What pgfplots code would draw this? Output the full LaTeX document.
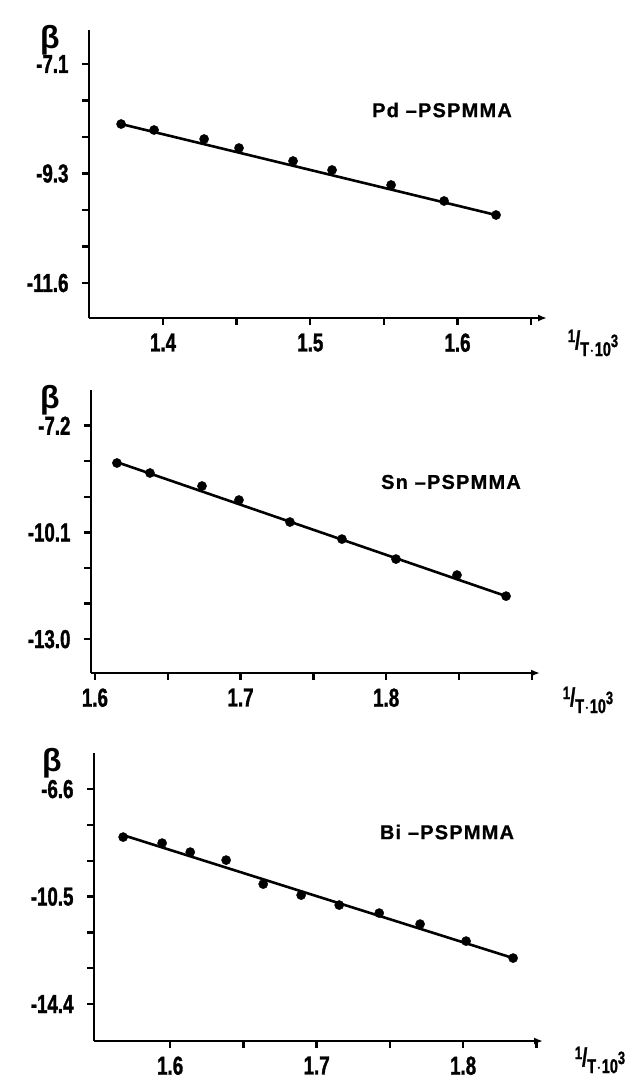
\documentclass[border=0pt]{standalone}
\usepackage{fontspec}
\setmainfont{Liberation Sans}
\newfontfamily\tickfont{Liberation Sans}[FakeStretch=0.72,BoldFeatures={FakeBold=1.2}]
\newfontfamily\labfont{Liberation Sans}[LetterSpace=6,BoldFeatures={FakeBold=0.8}]
\usepackage{pgfplots}
\pgfplotsset{compat=1.18}
\usetikzlibrary{arrows.meta}
\pgfplotsset{
  panel/.style={
    scale only axis, clip=false,
    axis x line=bottom, axis y line=left,
    axis line style={line width=2.8pt},
    x axis line style={-{Latex[length=9pt,width=7pt]}},
    y axis line style={-},
    tick align=outside,
    major tick length=7pt, minor tick length=7pt,
    every tick/.style={black, line width=2.4pt},
    minor tick style={black, line width=2.4pt},
    tick label style={font=\tickfont\bfseries\fontsize{26}{26}\selectfont},
    xticklabel style={yshift=-5pt},
    yticklabel style={xshift=-10pt},
  },
  dots/.style={only marks, mark=*, mark size=4.6pt, black},
  fit/.style={black, line width=2.6pt, no marks},
}
\begin{document}
\begin{tikzpicture}
\useasboundingbox (0pt,0pt) rectangle (638pt,-1083pt);

% ---------------- Pd-PSPMMA ----------------
\begin{axis}[panel, at={(89pt,-318pt)}, anchor=south west,
  width=458pt, height=288pt,
  xmin=1.3497, xmax=1.6608, ymin=-12.32, ymax=-6.40,
  xtick={1.4,1.5,1.6}, xticklabels={1.4,1.5,1.6},
  minor xtick={1.45,1.55,1.65},
  ytick={-7.1,-9.35,-11.6}, yticklabels={-7.1,-9.3,-11.6},
  minor ytick={-7.85,-8.6,-10.1,-10.85}]
\addplot[fit] coordinates {(1.3715,-8.333) (1.6262,-10.203)};
\addplot[dots] coordinates {
(1.3715,-8.333) (1.3939,-8.456) (1.4279,-8.641) (1.4516,-8.826)
(1.4883,-9.093) (1.5148,-9.278) (1.5549,-9.586) (1.5909,-9.915)
(1.6262,-10.203)};
\end{axis}

% ---------------- Sn-PSPMMA ----------------
\begin{axis}[panel, at={(91pt,-673pt)}, anchor=south west,
  width=449pt, height=283pt,
  xmin=1.5973, xmax=1.9056, ymin=-13.92, ymax=-6.23,
  xtick={1.6,1.7,1.8}, xticklabels={1.6,1.7,1.8},
  minor xtick={1.65,1.75,1.85,1.9},
  ytick={-7.2,-10.1,-13.0}, yticklabels={-7.2,-10.1,-13.0},
  minor ytick={-8.167,-9.133,-11.067,-12.033}]
\addplot[fit] coordinates {(1.6151,-8.19) (1.8823,-11.831)};
\addplot[dots] coordinates {
(1.6151,-8.214) (1.6378,-8.486) (1.6735,-8.840) (1.6989,-9.220)
(1.7339,-9.818) (1.7696,-10.281) (1.8067,-10.824) (1.8486,-11.259)
(1.8823,-11.831)};
\end{axis}

% ---------------- Bi-PSPMMA ----------------
\begin{axis}[panel, at={(94pt,-1041pt)}, anchor=south west,
  width=449pt, height=288pt,
  xmin=1.548, xmax=1.8545, ymin=-15.74, ymax=-5.29,
  xtick={1.6,1.7,1.8}, xticklabels={1.6,1.7,1.8},
  minor xtick={1.65,1.75,1.85},
  ytick={-6.6,-10.5,-14.4}, yticklabels={-6.6,-10.5,-14.4},
  minor ytick={-7.9,-9.2,-11.8,-13.1}]
\addplot[fit] coordinates {(1.5679,-8.27) (1.8341,-12.731)};
\addplot[dots] coordinates {
(1.5679,-8.341) (1.5945,-8.559) (1.6137,-8.886) (1.6382,-9.176)
(1.6635,-10.047) (1.6894,-10.446) (1.7154,-10.808) (1.7427,-11.099)
(1.7706,-11.498) (1.8020,-12.115) (1.8341,-12.731)};
\end{axis}

% ---------------- labels ----------------
\tikzset{beta/.style={font=\bfseries\fontsize{32}{32}\selectfont, inner sep=0pt},
  name/.style={font=\labfont\bfseries\fontsize{20}{20}\selectfont, inner sep=0pt},
  xl/.style={font=\tickfont\bfseries\fontsize{20}{20}\selectfont, inner sep=0pt}}
\node[beta] at (50pt,-40pt) {β};
\node[beta] at (50pt,-400pt) {β};
\node[beta] at (52pt,-763pt) {β};
\node[name] at (442pt,-110pt) {Pd –PSPMMA};
\node[name] at (451pt,-482pt) {Sn –PSPMMA};
\node[name] at (447pt,-832pt) {Bi –PSPMMA};
\newcommand\xlab{\raisebox{7pt}{\fontsize{18}{18}\selectfont 1}{\fontsize{26}{26}\selectfont /}\raisebox{-7pt}{T$\cdot$10\raisebox{9pt}{\fontsize{18}{18}\selectfont 3}}}
\node[xl] at (593pt,-343pt) {\xlab};
\node[xl] at (588pt,-700pt) {\xlab};
\node[xl] at (600pt,-1060pt) {\xlab};
\end{tikzpicture}
\end{document}
